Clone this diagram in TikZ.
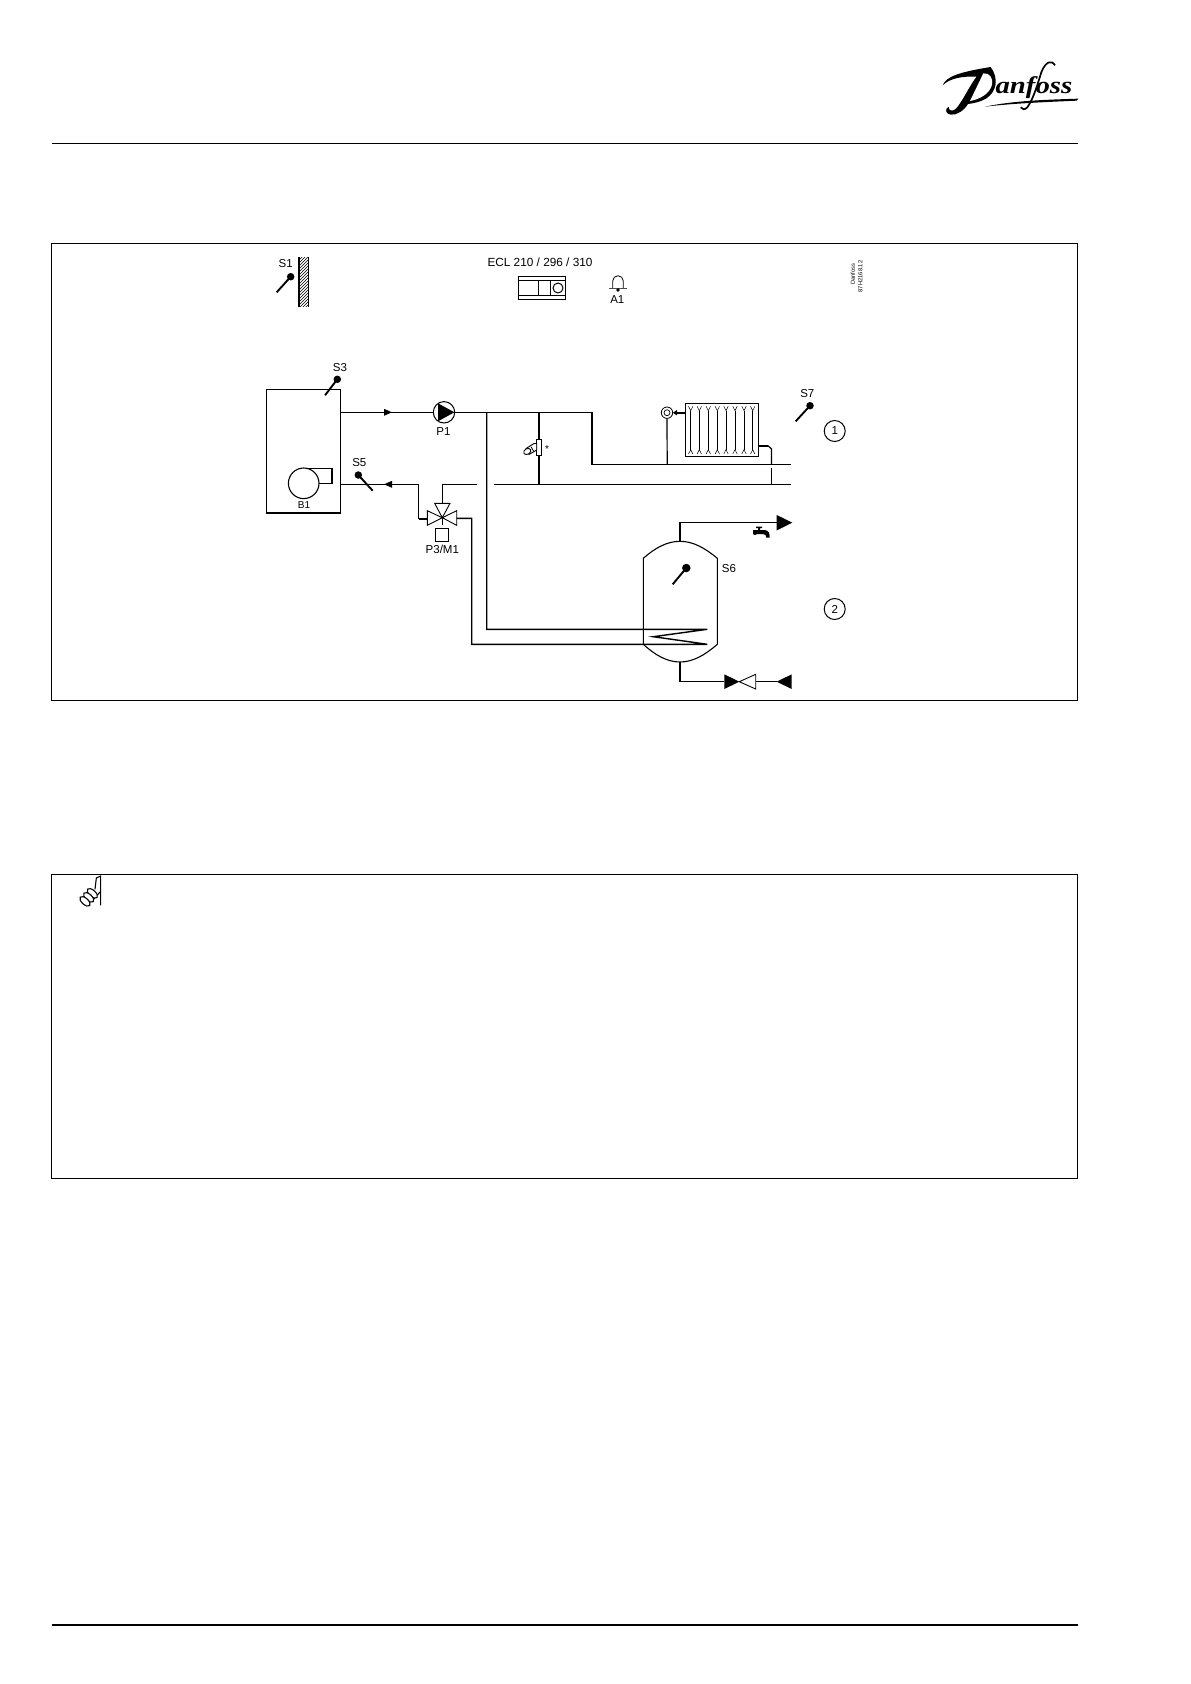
\documentclass[tikz,border=0pt]{standalone}
\usepackage{fontspec}
\setmainfont{Liberation Sans}
\newfontfamily\logofont{Liberation Serif}
\usetikzlibrary{patterns,shapes.geometric,calc}
\tikzset{
  pipe/.style={line width=1.2pt,line join=miter},
  thickpipe/.style={line width=1.9pt},
  frame/.style={line width=0.9pt},
  rule/.style={line width=1.1pt},
  lab/.style={inner sep=0pt,font=\fontsize{11.5}{12}\selectfont},
  sensordot/.style={circle,fill=black,inner sep=0pt,minimum size=7.5pt},
  ring/.style={circle,draw,line width=1pt,inner sep=0pt,minimum size=21pt,font=\fontsize{11.5}{12}\selectfont},
  opentri/.style={fill=white,draw=black,line width=0.9pt,line join=miter},
  symb/.style={draw=black,line width=1pt},
}
\begin{document}
\begin{tikzpicture}[x=1pt,y=-1pt]
\useasboundingbox (0,0) rectangle (1191,1684);
\fill[white] (0,0) rectangle (1191,1684);

% page furniture
\draw[rule] (51.5,143.3) -- (1078,143.3);
\draw[line width=1.6pt] (51.5,1625) -- (1078,1625);
\draw[frame] (51.5,243.8) rectangle (1077.5,700.5);
\draw[frame] (51.5,874) rectangle (1077.5,1178);

% logo
\begin{scope}[shift={(940,58)},x=0.33333pt,y=-0.33333pt]
\fill (8,82) .. controls (18,55) and (60,42) .. (152,27)
  .. controls (176,60) and (172,100) .. (138,122)
  .. controls (120,132) and (100,136) .. (84,138)
  .. controls (72,158) and (50,172) .. (32,170)
  .. controls (16,168) and (14,152) .. (26,146)
  .. controls (24,158) and (38,162) .. (48,152)
  .. controls (68,130) and (90,80) .. (110,56)
  .. controls (70,54) and (30,60) .. (8,82) -- cycle;
\fill[white] (130,46) -- (90,129)
  .. controls (120,124) and (150,106) .. (156,80)
  .. controls (160,62) and (150,44) .. (130,46) -- cycle;
\fill (135,146) .. controls (220,128) and (320,125) .. (415,122)
  -- (410,128) .. controls (320,132) and (220,136) .. (135,146) -- cycle;
\node[inner sep=0pt,anchor=base west,xscale=1.2,font=\logofont\bfseries\itshape\fontsize{24}{24}\selectfont] (logotext) at (166,107) {anfoss};
\draw[line width=1.7pt] (345,22) .. controls (335,5) and (318,10) .. (305,40)
  .. controls (295,70) and (282,120) .. (262,148)
  .. controls (255,156) and (245,155) .. (242,148);
\end{scope}

% outdoor sensor and wall
\fill[pattern=north east lines] (299,257.3) rectangle (308.7,306.7);
\draw[line width=0.5pt] (308.7,257.3) -- (308.7,306.7);
\draw[line width=1.6pt] (299,257.3) -- (299,306.7);
\node[lab] (s1) at (285.7,264) {S1};
\node[sensordot] (s1dot) at (290.7,276.7) {};
\coordinate (s1end) at (276.7,292.3);
\draw[thickpipe] (s1dot.center) -- (s1end);

% controller
\node[lab,font=\fontsize{11.8}{12}\selectfont] (ecl) at (540,262) {ECL 210 / 296 / 310};
\draw[symb] (518.3,276) rectangle (565.3,299.3);
\draw[line width=0.7pt] (518.3,280.7) -- (565.3,280.7) (518.3,295.3) -- (565.3,295.3);
\draw[line width=0.8pt] (538.3,280.7) -- (538.3,295.3) (550.7,280.7) -- (550.7,295.3);
\draw[symb] (558,288) circle (5);

% alarm
\draw[line width=0.8pt] (612.7,288) -- (612.7,281) arc (180:360:5.3) -- (623.3,288);
\draw[line width=1pt,draw=black!70] (609.3,288.3) -- (626.7,288.3);
\fill (618,290) circle (1.9);
\node[lab] (a1) at (617.3,299.5) {A1};

% drawing number
\node[rotate=90,inner sep=0pt,font=\fontsize{5.8}{6}\selectfont,anchor=south] (dn1) at (855,274) {Danfoss};
\node[rotate=90,inner sep=0pt,font=\fontsize{5.8}{6}\selectfont,anchor=south] (dn2) at (862.5,276.5) {87H2168.12};

% boiler
\draw[line width=1.1pt] (266.3,389.3) rectangle (340.3,513.3);
\draw[line width=2pt] (266,513.3) -- (340.6,513.3);
\draw[line width=1.1pt] (303.7,468.3) -- (332,468.3) -- (332,483.3) -- (319,483.3);
\draw[line width=2pt] (332,468.3) -- (332,483.3);
\node[circle,draw,line width=1.1pt,inner sep=0pt,minimum size=30.6pt,fill=white] (burner) at (303.7,483.3) {};
\node[lab,font=\fontsize{10}{10}\selectfont] (b1) at (304,505.3) {B1};
\coordinate (boilerflow) at (340.3,412.3);
\coordinate (boilerret) at (340.3,484.3);

% S3
\node[lab] (s3) at (340,367.3) {S3};
\node[sensordot] (s3dot) at (337.3,379.3) {};
\coordinate (s3end) at (325,395.3);
\draw[thickpipe] (s3dot.center) -- (s3end);

% pump
\node[circle,draw,line width=1pt,inner sep=0pt,minimum size=21.4pt] (pump) at (444,412.3) {};
\fill ($(pump.center)+(-6,-9)$) -- ($(pump.center)+(10.4,0)$) -- ($(pump.center)+(-6,9)$) -- cycle;
\node[lab] (p1) at (443.5,431.7) {P1};
\draw[pipe] (boilerflow) -- (pump.west);
\fill (384,408.8) -- (392,412.3) -- (384,415.8) -- cycle;

% main junctions
\coordinate (j1) at (486.7,412.3);
\coordinate (j2) at (538.7,412.3);
\coordinate (j3) at (592,412.3);
\coordinate (j4) at (592,464.3);
\coordinate (r1) at (790.7,464.3);
\coordinate (r2) at (790.7,484.3);
\coordinate (j5) at (538.7,484.3);
\coordinate (j6) at (494.3,484.3);
\draw[pipe] (pump.east) -- (j3);
\draw[pipe,line width=1.4pt] (j3) -- (j4) -- (r1);
\draw[pipe] (j6) -- (r2);

% bypass and its valve
\draw[thickpipe] (j2) -- (j5);
\node[draw,fill=white,line width=0.9pt,minimum width=4.6pt,minimum height=16pt,inner sep=0pt] (bypass) at (538.9,447.3) {};
\draw[fill=white,line width=0.9pt] (526,448.5) -- (534,443.5) -- (536.7,443.5) -- (536.7,450) -- (529,454.5) -- cycle;
\draw[fill=white,line width=0.9pt,rotate around={30:(527.3,451.5)}] (527.3,451.5) ellipse (3.8 and 2.8);
\draw[line width=0.8pt] (531,446.7) -- (534,452);
\node[inner sep=0pt,font=\fontsize{10}{10}\selectfont] (star) at (547,449.5) {*};

% mixing valve
\coordinate (mv) at (442.3,517.7);
\draw[opentri] (mv) -- (434.7,503.3) -- (450,503.3) -- cycle;
\draw[opentri] (mv) -- (427.3,510.7) -- (427.3,525.3) -- cycle;
\draw[opentri] (mv) -- (456.7,510.7) -- (456.7,525.3) -- cycle;
\fill (mv) circle (1);
\node[draw,line width=0.9pt,minimum size=13pt,inner sep=0pt] (act) at (442.2,534.8) {};
\draw[line width=0.7pt] (mv) -- (442.3,525);
\node[lab] (p3) at (442.3,549.7) {P3/M1};
\coordinate (mvtop) at (442.3,503.3);
\coordinate (mvleft) at (427.3,519);
\coordinate (mvright) at (456.7,518.3);
\draw[pipe] (mvtop) -- (442.3,484.3) -- (477,484.3);
\draw[thickpipe] (mvleft) -- (418.7,519);
\draw[pipe] (418.7,519) -- (418.7,484.3) -- (boilerret);
\fill (392,480.8) -- (384,484.3) -- (392,487.8) -- cycle;

% S5
\node[lab] (s5) at (359.3,462.3) {S5};
\node[sensordot] (s5dot) at (358.3,475) {};
\coordinate (s5end) at (372.7,490.7);
\draw[thickpipe] (s5dot.center) -- (s5end);

% radiator
\draw[line width=1.1pt] (685.3,403.3) rectangle (758.5,456.3);
\foreach \vx in {690.7,699.3,708.3,717.3,726,735,744,752.7}{
  \draw[line width=0.8pt] (\vx,410.7) -- (\vx,449.7);
  \draw[line width=0.5pt] ({\vx-2.2},406.3) -- (\vx,410.7) -- ({\vx+2.2},406.3);
  \draw[line width=0.5pt] ({\vx-2.2},454) -- (\vx,449.7) -- ({\vx+2.2},454);
}
\node[circle,draw,line width=0.8pt,inner sep=0pt,minimum size=11.4pt] (radvalve) at (667,412.7) {};
\draw[line width=0.7pt] (radvalve.center) circle (3);
\draw[thickpipe] (685.3,412.7) -- (676,412.7);
\fill (672.8,412.7) -- (677,410) -- (677,415.4) -- cycle;
\coordinate (rvb) at (667.2,464.3);
\draw[pipe] (radvalve.south) -- (rvb);
\draw[thickpipe] (758.7,445.7) -- (768,445.7);
\draw[pipe] (768,445.7) -- (771.5,449) -- (771.5,464.3);
\draw[pipe] (771.5,468.3) -- (771.5,484.3);

% S7
\node[lab] (s7) at (807.3,393.3) {S7};
\node[sensordot] (s7dot) at (810,405.7) {};
\coordinate (s7end) at (795.7,421.3);
\draw[thickpipe] (s7dot.center) -- (s7end);

% numbered rings
\node[ring] (c1) at (834.7,431) {1};
\node[ring] (c2) at (834.7,609) {2};

% tank
\draw[line width=1.1pt,fill=white] (643.3,558.3)
  .. controls (655,548) and (667,541.3) .. (680,541.3)
  .. controls (693,541.3) and (705,548) .. (717.3,558.3)
  -- (717.3,644.3)
  .. controls (705,655) and (693,662) .. (680,662)
  .. controls (667,662) and (655,655) .. (643.3,644.3) -- cycle;
\coordinate (tanktop) at (680,541.3);
\coordinate (tankbot) at (680,662);

% coil and pipes to it
\coordinate (ctop) at (707.3,629.3);
\coordinate (cmid) at (653.3,636.7);
\coordinate (cbot) at (707.3,644.3);
\draw[pipe,line width=1.4pt,line join=miter] (j1) -- (486.7,629.3) -- (ctop) -- (cmid) -- (cbot) -- (471.7,644.3) -- (471.7,518.3) -- (mvright);

% DHW outlet
\coordinate (dhw) at (776.7,522.7);
\draw[pipe] (tanktop) -- (680,522.7) -- (dhw);
\fill (776.7,515) -- (792.3,522.7) -- (776.7,530.5) -- cycle;
% tap
\fill (756,526.5) -- (762,526.5) -- (762,528) -- (760,528) -- (760,530) -- (765,530)
  .. controls (768.5,530.5) and (769.7,533) .. (769.7,537.5) -- (766.3,537.5)
  .. controls (766.2,535.5) and (765.5,534) .. (763,534) -- (757,534) -- (755,535) -- (753,534) -- (753,530) -- (758,530) -- (758,528) -- (756,528) -- cycle;

% S6
\node[lab] (s6) at (729,569) {S6};
\node[sensordot,minimum size=8.5pt] (s6dot) at (686.3,568) {};
\coordinate (s6end) at (672.7,584.3);
\draw[thickpipe] (s6dot.center) -- (s6end);

% cold water
\coordinate (cv) at (739.3,681.7);
\draw[pipe] (tankbot) -- (680,681.7) -- (724.3,681.7);
\fill (724.3,674.3) -- (cv) -- (724.3,689) -- cycle;
\draw[opentri] (cv) -- (755.7,674.3) -- (755.7,689) -- cycle;
\draw[pipe] (755.7,681.7) -- (777,681.7);
\fill (776.7,681.7) -- (791.7,674.3) -- (791.7,689) -- cycle;

% hand icon
\begin{scope}[shift={(75,872)},x=0.33333pt,y=-0.33333pt]
\draw[line width=1.1pt] (77,100) -- (77,12) -- (64,18) -- (60,52);
\draw[line width=1.1pt] (77,58) -- (52,86);
\foreach \c in {(52,64),(41,76),(30,88)}{
  \draw[line width=1.1pt,fill=white,rotate around={-42:\c}] \c ellipse (19 and 9.5);
}
\end{scope}
\end{tikzpicture}
\end{document}
